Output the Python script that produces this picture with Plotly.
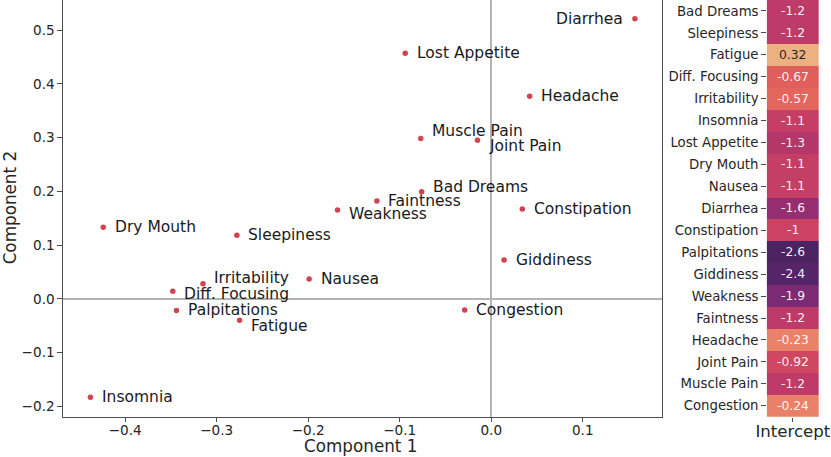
import plotly.graph_objects as go

# ---- scatter data (component loadings) ----
symptoms = ["Diarrhea", "Lost Appetite", "Headache", "Muscle Pain", "Joint Pain",
            "Bad Dreams", "Constipation", "Faintness", "Weakness", "Dry Mouth",
            "Sleepiness", "Irritability", "Diff. Focusing", "Palpitations", "Fatigue",
            "Nausea", "Insomnia", "Giddiness", "Congestion"]
comp1 = [0.157, -0.094, 0.042, -0.077, -0.015,
         -0.076, 0.034, -0.125, -0.168, -0.424,
         -0.278, -0.315, -0.348, -0.344, -0.275,
         -0.199, -0.438, 0.014, -0.029]
comp2 = [0.521, 0.457, 0.377, 0.298, 0.295,
         0.199, 0.167, 0.182, 0.165, 0.133,
         0.118, 0.028, 0.014, -0.022, -0.040,
         0.037, -0.183, 0.072, -0.021]

# label offsets in pixels (label placement only)
label_dx = {"Diarrhea": -10}
label_dy = {"Muscle Pain": 8, "Joint Pain": -6, "Bad Dreams": 5, "Weakness": -4,
            "Irritability": 6, "Diff. Focusing": -3, "Fatigue": -6, "Palpitations": 1}

# ---- heatmap data (intercepts) ----
hm_rows = ["Bad Dreams", "Sleepiness", "Fatigue", "Diff. Focusing", "Irritability",
           "Insomnia", "Lost Appetite", "Dry Mouth", "Nausea", "Diarrhea",
           "Constipation", "Palpitations", "Giddiness", "Weakness", "Faintness",
           "Headache", "Joint Pain", "Muscle Pain", "Congestion"]
intercepts = [-1.2, -1.2, 0.32, -0.67, -0.57,
              -1.1, -1.3, -1.1, -1.1, -1.6,
              -1.0, -2.6, -2.4, -1.9, -1.2,
              -0.23, -0.92, -1.2, -0.24]
hm_labels = ["-1.2", "-1.2", "0.32", "-0.67", "-0.57",
             "-1.1", "-1.3", "-1.1", "-1.1", "-1.6",
             "-1", "-2.6", "-2.4", "-1.9", "-1.2",
             "-0.23", "-0.92", "-1.2", "-0.24"]
hm_col = ["Intercept"]

FONT = "DejaVu Sans"
TXT = "#262626"

flare_r = [
    [0.00, "rgb(75,35,98)"],
    [0.08, "rgb(88,37,106)"],
    [0.24, "rgb(125,42,116)"],
    [0.36, "rgb(155,46,112)"],
    [0.48, "rgb(190,58,104)"],
    [0.56, "rgb(205,67,98)"],
    [0.66, "rgb(224,94,91)"],
    [0.72, "rgb(229,108,93)"],
    [0.82, "rgb(233,132,105)"],
    [1.00, "rgb(237,176,129)"],
]

fig = go.Figure()

fig.add_trace(go.Scatter(
    x=comp1, y=comp2, mode="markers",
    marker=dict(color="#d0434f", size=5.5),
    hoverinfo="text", text=symptoms, showlegend=False,
    xaxis="x", yaxis="y",
))

annotations = []
for name, cx, cy in zip(symptoms, comp1, comp2):
    dx = label_dx.get(name, 9.5)
    annotations.append(dict(
        x=cx, y=cy, xref="x", yref="y", text=name, showarrow=False,
        xanchor="right" if dx < 0 else "left", yanchor="middle",
        xshift=dx, yshift=label_dy.get(name, 0),
        font=dict(family=FONT, size=15.5, color="#1a1a1a"),
    ))

fig.add_trace(go.Heatmap(
    z=[[v] for v in intercepts], x=hm_col, y=hm_rows,
    colorscale=flare_r, zmin=min(intercepts), zmax=max(intercepts),
    showscale=False, xaxis="x2", yaxis="y2", xgap=0, ygap=0,
))

zmin, zmax = min(intercepts), max(intercepts)
for name, v, lab in zip(hm_rows, intercepts, hm_labels):
    light = (v - zmin) / (zmax - zmin) > 0.9
    annotations.append(dict(
        x=hm_col[0], y=name, xref="x2", yref="y2", text=lab, showarrow=False,
        font=dict(family=FONT, size=12.3, color=TXT if light else "rgba(255,255,255,0.95)"),
    ))

annotations.append(dict(x=0.4338, y=0.0, xref="paper", yref="paper", yanchor="bottom",
                        yshift=-1, text="Component 1", showarrow=False,
                        font=dict(family=FONT, size=16.8, color=TXT)))
annotations.append(dict(x=0.0, y=0.5441, xref="paper", yref="paper", xanchor="left",
                        xshift=-2, text="Component 2", textangle=-90, showarrow=False,
                        font=dict(family=FONT, size=16.8, color=TXT)))

axis_common = dict(showgrid=False, showline=True, linecolor="#4d4d4d", linewidth=1.3,
                   mirror=True, ticks="outside", ticklen=4.5, tickcolor="#4d4d4d",
                   tickwidth=1.2, automargin=False,
                   tickfont=dict(family=FONT, size=13.6, color=TXT),
                   zeroline=True, zerolinecolor="#b3b3b3", zerolinewidth=1.5)

fig.update_layout(
    width=831, height=457,
    margin=dict(l=0, r=0, t=0, b=0, autoexpand=False),
    paper_bgcolor="white", plot_bgcolor="white",
    font=dict(family=FONT, color=TXT),
    showlegend=False,
    xaxis=dict(domain=[0.0758, 0.7966], range=[-0.468, 0.1866],
               tickvals=[-0.4, -0.3, -0.2, -0.1, 0.0, 0.1],
               ticktext=["\u22120.4", "\u22120.3", "\u22120.2", "\u22120.1", "0.0", "0.1"],
               ticklabelstandoff=-4,
               **axis_common),
    yaxis=dict(domain=[0.0882, 1.0], range=[-0.2194, 0.5559],
               tickvals=[-0.2, -0.1, 0.0, 0.1, 0.2, 0.3, 0.4, 0.5],
               ticktext=["\u22120.2", "\u22120.1", "0.0", "0.1", "0.2", "0.3", "0.4", "0.5"],
               **axis_common),
    xaxis2=dict(domain=[0.9226, 0.9856], anchor="y2", showgrid=False, zeroline=False,
                showline=False, ticks="outside", ticklen=4.5, tickcolor="#4d4d4d",
                automargin=False, ticklabelstandoff=-5,
                tickfont=dict(family=FONT, size=16.6, color=TXT)),
    yaxis2=dict(domain=[0.0882, 1.0], anchor="x2", autorange="reversed",
                showgrid=False, zeroline=False, showline=False, automargin=False,
                ticks="outside", ticklen=4.5, tickcolor="#4d4d4d",
                tickfont=dict(family=FONT, size=13.3, color=TXT)),
    annotations=annotations,
)

fig.write_html("out.html", config={"displayModeBar": False},
               post_script="document.body.style.margin='0';document.body.style.overflow='hidden';")
